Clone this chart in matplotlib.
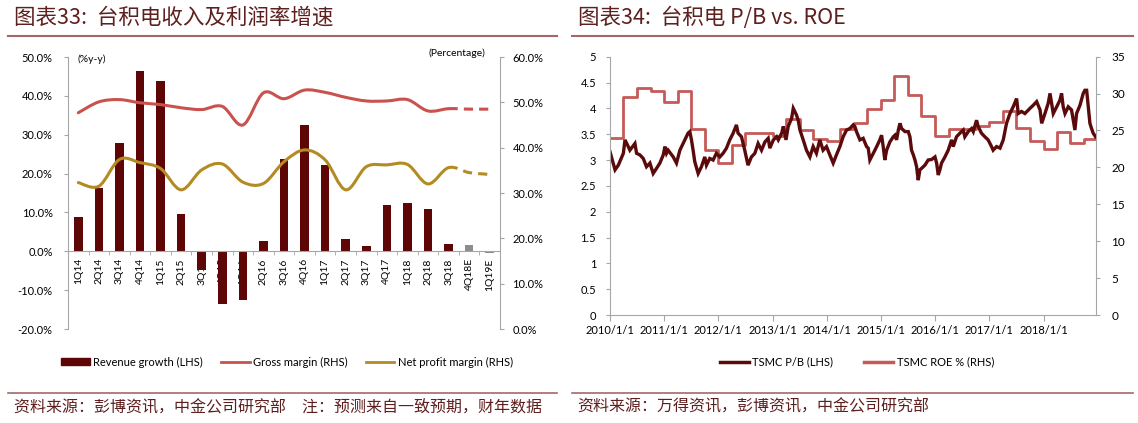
import numpy as np
import pandas as pd
import matplotlib
matplotlib.use("Agg")
import matplotlib.pyplot as plt
from matplotlib.path import Path
from matplotlib.patches import PathPatch, Patch
from matplotlib.lines import Line2D

# ---- 图表33 数据 ----
quarters = ["1Q14", "2Q14", "3Q14", "4Q14", "1Q15", "2Q15", "3Q15", "4Q15",
            "1Q16", "2Q16", "3Q16", "4Q16", "1Q17", "2Q17", "3Q17", "4Q17",
            "1Q18", "2Q18", "3Q18", "4Q18E", "1Q19E"]
revenue_growth = [8.7, 16.4, 27.9, 46.3, 43.9, 9.5, -4.7, -13.6, -12.6, 2.7, 23.7,
                  32.4, 22.3, 3.2, 1.3, 11.8, 12.4, 10.9, 1.9, 1.5, -0.5]
gross_margin = [47.7, 50.1, 50.6, 49.9, 49.5, 48.8, 48.4, 49.1, 45.0, 52.1, 50.8,
                52.7, 52.2, 51.1, 50.3, 50.3, 50.6, 48.1, 48.6, 48.5, 48.5]
net_margin = [32.3, 31.5, 37.4, 36.7, 35.4, 30.7, 35.1, 36.4, 32.4, 32.1, 36.9,
              39.5, 37.3, 30.7, 35.8, 36.2, 36.3, 32.0, 35.6, 34.5, 34.1]

# ---- 图表34 数据 ----
pb_dates = ["2010-01-01", "2010-02-04", "2010-02-26", "2010-04-01", "2010-04-12", "2010-05-04",
            "2010-05-15", "2010-06-18", "2010-06-29", "2010-07-21", "2010-08-13", "2010-09-04",
            "2010-09-27", "2010-10-19", "2010-11-11", "2010-12-03", "2010-12-26", "2011-01-06",
            "2011-01-17", "2011-01-28", "2011-03-03", "2011-03-25", "2011-04-17", "2011-05-20",
            "2011-06-11", "2011-06-23", "2011-07-04", "2011-07-15", "2011-07-26", "2011-08-18",
            "2011-09-09", "2011-10-02", "2011-10-13", "2011-11-04", "2011-11-27", "2011-12-19",
            "2012-01-11", "2012-02-02", "2012-02-25", "2012-03-18", "2012-04-10", "2012-05-02",
            "2012-05-13", "2012-06-05", "2012-06-27", "2012-07-19", "2012-08-11", "2012-09-03",
            "2012-09-25", "2012-10-18", "2012-11-10", "2012-12-02", "2012-12-13", "2013-01-06",
            "2013-01-28", "2013-02-08", "2013-03-03", "2013-03-14", "2013-04-01", "2013-04-16",
            "2013-05-09", "2013-05-20", "2013-06-11", "2013-06-22", "2013-07-04", "2013-07-26",
            "2013-08-17", "2013-09-09", "2013-10-01", "2013-10-23", "2013-11-15", "2013-12-07",
            "2013-12-30", "2014-01-21", "2014-02-13", "2014-03-07", "2014-03-30", "2014-04-21",
            "2014-05-14", "2014-06-05", "2014-06-28", "2014-07-09", "2014-07-20", "2014-08-12",
            "2014-09-03", "2014-09-26", "2014-10-07", "2014-10-18", "2014-10-29", "2014-11-21",
            "2014-12-13", "2014-12-24", "2015-01-05", "2015-01-16", "2015-01-27", "2015-02-08",
            "2015-03-02", "2015-03-25", "2015-04-05", "2015-04-16", "2015-04-28", "2015-05-09",
            "2015-05-20", "2015-06-12", "2015-07-04", "2015-07-15", "2015-07-26", "2015-08-07",
            "2015-08-18", "2015-08-29", "2015-09-09", "2015-09-20", "2015-10-02", "2015-10-24",
            "2015-11-15", "2015-12-08", "2015-12-31", "2016-01-11", "2016-01-22", "2016-02-02",
            "2016-02-13", "2016-03-07", "2016-03-29", "2016-04-21", "2016-05-02", "2016-05-24",
            "2016-06-16", "2016-07-08", "2016-07-19", "2016-08-11", "2016-09-03", "2016-09-14",
            "2016-10-06", "2016-10-17", "2016-11-08", "2016-12-01", "2016-12-23", "2017-01-15",
            "2017-01-26", "2017-02-18", "2017-03-13", "2017-04-04", "2017-04-26", "2017-05-19",
            "2017-06-10", "2017-07-03", "2017-07-14", "2017-08-05", "2017-08-28", "2017-10-01",
            "2017-10-23", "2017-11-15", "2017-12-08", "2017-12-19", "2018-01-10", "2018-02-01",
            "2018-02-13", "2018-03-07", "2018-03-30", "2018-04-21", "2018-05-02", "2018-05-13",
            "2018-05-25", "2018-06-16", "2018-07-08", "2018-07-31", "2018-08-11", "2018-09-03",
            "2018-09-25", "2018-10-06", "2018-10-18", "2018-10-29", "2018-11-09", "2018-11-20",
            "2018-12-01", "2018-12-17"]
pb_values = [3.16, 2.81, 2.90, 3.13, 3.39, 3.26,
             3.19, 3.32, 3.13, 3.10, 3.03, 2.87,
             2.94, 2.74, 2.84, 2.94, 3.10, 3.26,
             3.13, 3.19, 3.06, 2.94, 3.19, 3.39,
             3.52, 3.55, 3.39, 3.19, 2.97, 2.74,
             2.87, 3.06, 2.90, 3.03, 3.00, 3.13,
             3.06, 3.13, 3.23, 3.39, 3.52, 3.68,
             3.52, 3.45, 3.19, 2.90, 3.06, 3.13,
             3.32, 3.19, 3.35, 3.42, 3.23, 3.39,
             3.45, 3.39, 3.52, 3.65, 3.39, 3.65,
             3.81, 4.00, 3.87, 3.77, 3.58, 3.39,
             3.19, 3.06, 3.26, 3.13, 3.39, 3.19,
             3.26, 3.10, 2.94, 3.10, 3.26, 3.45,
             3.58, 3.61, 3.68, 3.65, 3.55, 3.39,
             3.42, 3.26, 3.23, 3.00, 3.06, 3.19,
             3.32, 3.39, 3.48, 3.26, 3.00, 3.19,
             3.35, 3.45, 3.48, 3.39, 3.58, 3.71,
             3.61, 3.55, 3.55, 3.45, 3.19, 3.10,
             3.00, 2.87, 2.61, 2.81, 2.84, 2.90,
             3.00, 3.01, 3.06, 2.94, 2.71, 2.81,
             2.94, 3.06, 3.19, 3.39, 3.26, 3.45,
             3.52, 3.58, 3.45, 3.55, 3.61, 3.55,
             3.77, 3.65, 3.52, 3.45, 3.39, 3.26,
             3.19, 3.26, 3.23, 3.39, 3.71, 3.90,
             4.03, 4.19, 3.90, 3.94, 3.90, 4.00,
             4.06, 4.13, 3.97, 3.71, 3.90, 4.10,
             4.29, 3.90, 4.03, 4.16, 4.29, 4.03,
             3.90, 4.03, 3.97, 3.58, 3.90, 4.06,
             4.29, 4.35, 4.35, 4.03, 3.71, 3.61,
             3.52, 3.45]
roe_quarter_start = ["2010-01-01", "2010-04-01", "2010-07-01", "2010-10-01",
                     "2011-01-01", "2011-04-01", "2011-07-01", "2011-10-01",
                     "2012-01-01", "2012-04-01", "2012-07-01", "2012-10-01",
                     "2013-01-01", "2013-04-01", "2013-07-01", "2013-10-01",
                     "2014-01-01", "2014-04-01", "2014-07-01", "2014-10-01",
                     "2015-01-01", "2015-04-01", "2015-07-01", "2015-10-01",
                     "2016-01-01", "2016-04-01", "2016-07-01", "2016-10-01",
                     "2017-01-01", "2017-04-01", "2017-07-01", "2017-10-01",
                     "2018-01-01", "2018-04-01", "2018-07-01", "2018-10-01"]
roe_values = [24.0, 29.6, 30.7, 30.3,
              28.9, 30.3, 25.2, 22.4,
              20.6, 23.0, 24.7, 24.7,
              24.2, 26.6, 25.1, 23.9,
              23.6, 25.2, 26.0, 27.9,
              29.1, 32.4, 29.8, 27.0,
              24.3, 25.2, 25.2, 25.6,
              26.2, 27.6, 25.3, 23.6,
              22.5, 24.8, 23.3, 23.9]
end_date = "2018-12-20"

# 颜色
c_bar = "#5e0606"
c_est = "#8c8c8c"
c_gross = "#c9524f"
c_net = "#b38b22"
c_pb = "#5a0a0a"
c_roe = "#c55a58"
c_spine = "#a6a6a6"
c_title = "#5e1f1f"
c_rule = "#a46868"
cjk = ["Noto Sans CJK SC", "DejaVu Sans"]

plt.rcParams["font.family"] = ["Lato", "DejaVu Sans"]

W, H = 1138, 423
fig = plt.figure(figsize=(W / 100, H / 100), dpi=100)


def fx(px):
    return px / W


def fy(py):
    return 1 - py / H


# Excel风格平滑曲线 (Bezier)
def smooth_path(xs, ys, i0, i1):
    n = len(xs)
    verts = [(xs[i0], ys[i0])]
    codes = [Path.MOVETO]
    for i in range(i0, i1):
        a = max(i - 1, 0)
        b = min(i + 2, n - 1)
        c1 = (xs[i] + (xs[i + 1] - xs[a]) / 6, ys[i] + (ys[i + 1] - ys[a]) / 6)
        c2 = (xs[i + 1] - (xs[b] - xs[i]) / 6, ys[i + 1] - (ys[b] - ys[i]) / 6)
        verts += [c1, c2, (xs[i + 1], ys[i + 1])]
        codes += [Path.CURVE4] * 3
    return Path(verts, codes)


# ================= 图表33 =================
ax1 = fig.add_axes([fx(68), fy(329), fx(432), 272 / H])
x = np.arange(len(quarters))
bar_colors = [c_est if q.endswith("E") else c_bar for q in quarters]
ax1.bar(x, revenue_growth, width=0.42, color=bar_colors, zorder=2)
ax1.set_xlim(-0.5, len(quarters) - 0.5)
ax1.set_ylim(-20, 50)
ax1.set_yticks(np.arange(-20, 51, 10))
ax1.set_yticklabels([f"{v:.1f}%" for v in np.arange(-20, 51, 10)])
ax1.spines["bottom"].set_position(("data", 0))
ax1.spines["top"].set_visible(False)
ax1.spines["right"].set_visible(False)
ax1.spines["left"].set_color(c_spine)
ax1.spines["bottom"].set_color(c_spine)
ax1.set_xticks(x)
ax1.set_xticklabels(quarters, rotation=90, fontsize=7.5)
ax1.set_xticks(np.arange(-0.5, len(quarters), 1), minor=True)
ax1.tick_params(axis="x", which="major", length=0, pad=5)
ax1.tick_params(axis="x", which="minor", length=3, color=c_spine)
ax1.tick_params(axis="y", length=3, color=c_spine, labelsize=8, pad=8)

ax1b = ax1.twinx()
ax1b.set_ylim(0, 60)
ax1b.set_yticks(np.arange(0, 61, 10))
ax1b.set_yticklabels([f"{v:.1f}%" for v in np.arange(0, 61, 10)])
for s in ["top", "bottom", "left"]:
    ax1b.spines[s].set_visible(False)
ax1b.spines["right"].set_color(c_spine)
ax1b.tick_params(axis="y", length=3, color=c_spine, labelsize=8, pad=6)

split = quarters.index("3Q18")
for series, col in [(gross_margin, c_gross), (net_margin, c_net)]:
    ax1b.add_patch(PathPatch(smooth_path(x, series, 0, split), fill=False,
                             edgecolor=col, lw=2.2, capstyle="round", zorder=3))
    ax1b.add_patch(PathPatch(smooth_path(x, series, split, len(x) - 1), fill=False,
                             edgecolor=col, lw=2.2, linestyle=(0, (3, 2)), zorder=3))

fig.text(fx(78), fy(59), "(%y-y)", fontsize=7.5, va="center", ha="left")
fig.text(fx(485), fy(53), "(Percentage)", fontsize=7.5, va="center", ha="right")

h1 = [Patch(color=c_bar), Line2D([], [], color=c_gross, lw=2), Line2D([], [], color=c_net, lw=2)]
fig.legend(h1, ["Revenue growth (LHS)", "Gross margin (RHS)", "Net profit margin (RHS)"],
           loc="center", bbox_to_anchor=(fx(287), fy(362)), ncol=3, frameon=False,
           fontsize=8, handlelength=2.6, handleheight=0.6, handletextpad=0.3,
           columnspacing=1.6)

# ================= 图表34 =================
ax2 = fig.add_axes([fx(610), fy(315), fx(486), 258.3 / H])
ax2b = ax2.twinx()
ax2.set_zorder(ax2b.get_zorder() + 1)
ax2.patch.set_visible(False)

ax2.plot(pd.to_datetime(pb_dates), pb_values, color=c_pb, lw=2.4, solid_joinstyle="miter")
roe_x = list(pd.to_datetime(roe_quarter_start)) + [pd.Timestamp(end_date)]
roe_y = roe_values + [roe_values[-1]]
ax2b.step(roe_x, roe_y, where="post", color=c_roe, lw=2)

ax2.set_xlim(pd.Timestamp("2010-01-01"), pd.Timestamp(end_date))
ax2.set_ylim(0, 5)
ax2.set_yticks(np.arange(0, 5.01, 0.5))
ax2.set_yticklabels([f"{v:g}" for v in np.arange(0, 5.01, 0.5)])
ax2b.set_ylim(0, 35)
ax2b.set_yticks(np.arange(0, 36, 5))
years = list(range(2010, 2019))
ax2.set_xticks(pd.to_datetime([f"{y}-01-01" for y in years]))
ax2.set_xticklabels([f"{y}/1/1" for y in years])
for a in (ax2, ax2b):
    for s in ["top", "bottom", "left", "right"]:
        a.spines[s].set_color(c_spine)
    a.spines["top"].set_visible(False)
ax2.spines["right"].set_visible(False)
ax2b.spines["left"].set_visible(False)
ax2b.spines["bottom"].set_visible(False)
ax2.tick_params(axis="x", length=4, color=c_spine, labelsize=8, pad=3)
ax2.tick_params(axis="y", length=3, color=c_spine, labelsize=8, pad=7)
ax2b.tick_params(axis="y", length=3, color=c_spine, labelsize=8.5, pad=8)

h2 = [Line2D([], [], color=c_pb, lw=2.5), Line2D([], [], color=c_roe, lw=2.5)]
fig.legend(h2, ["TSMC P/B (LHS)", "TSMC ROE % (RHS)"], loc="center",
           bbox_to_anchor=(fx(857), fy(362)), ncol=2, frameon=False, fontsize=8,
           handlelength=2.6, handletextpad=0.3, columnspacing=2.8)

# ================= 标题与脚注 =================
fig.text(fx(14), fy(18), "图表33:  台积电收入及利润率增速", family=cjk, fontsize=15.5,
         style="italic", color=c_title, va="center", ha="left")
fig.text(fx(578), fy(18), "图表34:  台积电 P/B vs. ROE", family=cjk, fontsize=15.5,
         style="italic", color=c_title, va="center", ha="left")
for x0, x1 in [(8, 557), (572, 1133)]:
    fig.add_artist(Line2D([fx(x0), fx(x1)], [fy(36), fy(36)], color=c_rule, lw=1.5))
    fig.add_artist(Line2D([fx(x0), fx(x1)], [fy(393), fy(393)], color=c_rule, lw=1.2))
fig.text(fx(14), fy(407), "资料来源：彭博资讯，中金公司研究部　注：预测来自一致预期，财年数据",
         family=cjk, fontsize=11.5, style="italic", color=c_title, va="center", ha="left")
fig.text(fx(577), fy(407), "资料来源：万得资讯，彭博资讯，中金公司研究部",
         family=cjk, fontsize=11.5, style="italic", color=c_title, va="center", ha="left")

fig.savefig("out.png", dpi=100)
